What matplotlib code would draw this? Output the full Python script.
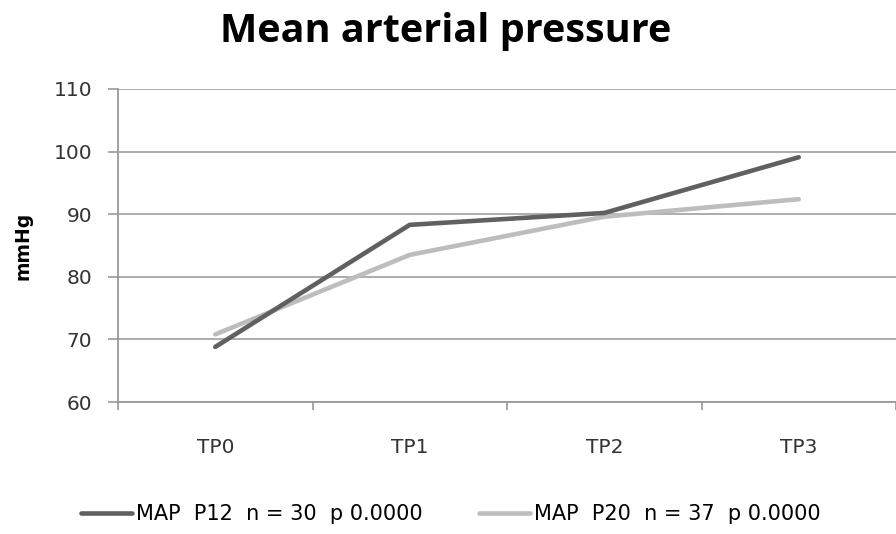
import matplotlib.pyplot as plt
import numpy as np

categories = ["TP0", "TP1", "TP2", "TP3"]
map_p12 = [68.8, 88.3, 90.2, 99.1]
map_p20 = [70.8, 83.5, 89.6, 92.4]
label_p12 = "MAP  P12  n = 30  p 0.0000"
label_p20 = "MAP  P20  n = 37  p 0.0000"
yticks = [60, 70, 80, 90, 100, 110]

fig = plt.figure(figsize=(8.96, 5.34), dpi=100)
ax = fig.add_axes([118 / 896, 1 - 402 / 534, 778 / 896, (402 - 89) / 534])

x = np.arange(len(categories))
ax.plot(x, map_p12, color="#606060", lw=3.3, solid_capstyle="round", label=label_p12, zorder=3)
ax.plot(x, map_p20, color="#bdbdbd", lw=3.3, solid_capstyle="round", label=label_p20, zorder=2)

ax.set_xlim(-0.5, 3.49)
ax.set_ylim(60, 110)
ax.set_yticks(yticks)
ax.set_yticklabels([str(v) for v in yticks], fontsize=14.5, family="DejaVu Sans", color="#333333")
ax.set_xticks(x)
ax.set_xticklabels(categories, fontsize=14.5, family="DejaVu Sans", color="#333333")
ax.set_xticks(np.arange(-0.5, 3.6, 1.0), minor=True)
ax.tick_params(axis="x", which="major", length=0, pad=26)
ax.tick_params(axis="x", which="minor", length=6, width=1.2, color="#999999", direction="out")
ax.tick_params(axis="y", length=7, width=1.2, color="#999999", direction="out", pad=11.5)
ax.grid(axis="y", color="#a6a6a6", lw=1.3)
ax.set_axisbelow(True)
for s in ["top", "right"]:
    ax.spines[s].set_visible(False)
for s in ["left", "bottom"]:
    ax.spines[s].set_color("#999999")
    ax.spines[s].set_linewidth(1.3)

ax.set_ylabel("mmHg", fontsize=13.5, fontweight="bold", family="DejaVu Sans")
ax.yaxis.set_label_coords(-86 / 778, 0.5)
fig.text(0.497, 1 - 42 / 534, "Mean arterial pressure", ha="center", va="baseline",
         fontsize=28.5, fontweight="bold", family=["Open Sans", "DejaVu Sans"])

fig.legend(loc="center", bbox_to_anchor=(0.503, 0.0375), ncol=2, frameon=False,
           handlelength=2.45, handletextpad=0.2, columnspacing=2.7,
           prop={"family": "DejaVu Sans", "size": 15})

fig.savefig("out.png", dpi=100)
